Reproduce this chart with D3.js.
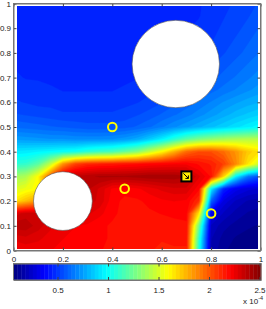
<!DOCTYPE html>
<html>
<head>
<meta charset="utf-8">
<script src="https://cdn.jsdelivr.net/npm/d3@7"></script>
<style>
  body { margin: 0; background: #fff; }
  svg { display: block; font-family: "Liberation Sans", Arial, sans-serif; }
</style>
</head>
<body>
<svg id="chart"></svg>
<script>
// concentration field, units of 1e-4, sampled every 0.05
var gridX = [0, 0.05, 0.1, 0.15, 0.2, 0.25, 0.3, 0.35, 0.4, 0.45, 0.5, 0.55, 0.6, 0.65, 0.7, 0.75, 0.8, 0.85, 0.9, 0.95, 1];
// rows from top (y = 1) to bottom (y = 0)
var gridY = [1, 0.95, 0.9, 0.85, 0.8, 0.75, 0.7, 0.65, 0.6, 0.55, 0.5, 0.45, 0.4, 0.35, 0.3, 0.25, 0.2, 0.15, 0.1, 0.05, 0];
var field = [
  [0.46,0.46,0.46,0.46,0.46,0.46,0.46,0.46,0.46,0.46,0.46,0.46,0.46,0.46,0.46,0.47,0.48,0.50,0.52,0.54,0.56],
  [0.46,0.46,0.46,0.46,0.46,0.46,0.46,0.46,0.46,0.46,0.46,0.46,0.46,0.46,0.46,0.47,0.49,0.51,0.53,0.55,0.58],
  [0.46,0.46,0.46,0.46,0.46,0.46,0.46,0.46,0.46,0.46,0.46,0.46,0.46,0.46,0.47,0.48,0.50,0.52,0.54,0.57,0.60],
  [0.46,0.46,0.46,0.46,0.46,0.46,0.46,0.46,0.46,0.46,0.46,0.46,0.46,0.47,0.48,0.49,0.51,0.53,0.56,0.59,0.62],
  [0.46,0.46,0.46,0.46,0.46,0.46,0.46,0.46,0.46,0.46,0.46,0.47,0.47,0.48,0.49,0.51,0.53,0.55,0.58,0.61,0.64],
  [0.47,0.46,0.46,0.46,0.46,0.46,0.46,0.46,0.46,0.46,0.46,0.47,0.48,0.49,0.51,0.53,0.55,0.58,0.61,0.64,0.67],
  [0.48,0.47,0.47,0.46,0.46,0.46,0.46,0.46,0.46,0.46,0.47,0.48,0.50,0.51,0.53,0.55,0.58,0.61,0.64,0.67,0.70],
  [0.50,0.49,0.48,0.48,0.47,0.47,0.47,0.47,0.47,0.48,0.49,0.50,0.52,0.54,0.56,0.59,0.62,0.65,0.68,0.71,0.74],
  [0.52,0.51,0.50,0.50,0.49,0.49,0.49,0.49,0.49,0.50,0.51,0.53,0.55,0.58,0.61,0.64,0.68,0.72,0.75,0.78,0.80],
  [0.56,0.55,0.54,0.53,0.52,0.52,0.52,0.52,0.52,0.53,0.55,0.57,0.60,0.63,0.66,0.70,0.74,0.78,0.82,0.85,0.88],
  [0.63,0.62,0.61,0.60,0.59,0.58,0.57,0.57,0.57,0.58,0.60,0.63,0.67,0.71,0.75,0.79,0.83,0.87,0.91,0.95,0.99],
  [0.75,0.74,0.73,0.72,0.72,0.71,0.71,0.71,0.72,0.74,0.78,0.86,0.95,1.08,1.20,1.28,1.33,1.37,1.40,1.42,1.43],
  [0.93,0.94,0.96,0.98,1.00,1.02,1.08,1.12,1.15,1.22,1.30,1.45,1.60,1.78,1.95,2.02,2.02,1.95,1.85,1.72,1.65],
  [1.08,1.10,1.20,1.45,1.85,2.05,2.12,2.14,2.15,2.17,2.18,2.20,2.21,2.22,2.22,2.18,2.14,2.06,1.88,1.65,1.45],
  [1.35,1.40,1.60,2.00,2.30,2.36,2.38,2.40,2.40,2.40,2.41,2.42,2.42,2.42,2.40,2.28,2.18,1.70,0.95,0.65,0.55],
  [1.50,1.55,1.60,2.00,2.30,2.35,2.36,2.30,2.22,2.20,2.22,2.25,2.28,2.30,2.30,2.20,0.95,0.45,0.33,0.28,0.26],
  [1.65,1.75,1.85,2.10,2.28,2.32,2.33,2.30,2.20,2.18,2.18,2.20,2.22,2.23,2.22,2.10,0.60,0.30,0.22,0.18,0.16],
  [2.28,2.33,2.33,2.32,2.32,2.30,2.28,2.24,2.20,2.17,2.17,2.18,2.19,2.20,2.20,1.65,0.32,0.22,0.17,0.14,0.13],
  [2.38,2.38,2.33,2.28,2.25,2.23,2.22,2.20,2.18,2.17,2.16,2.16,2.16,2.17,2.18,1.25,0.22,0.16,0.13,0.11,0.10],
  [2.28,2.30,2.28,2.25,2.23,2.22,2.21,2.20,2.18,2.17,2.16,2.15,2.15,2.16,2.16,1.10,0.19,0.13,0.10,0.09,0.09],
  [2.22,2.24,2.24,2.23,2.22,2.21,2.20,2.19,2.18,2.17,2.16,2.15,2.14,2.14,2.14,1.05,0.18,0.11,0.09,0.08,0.08]
];

var xTicks = [0, 0.2, 0.4, 0.6, 0.8, 1];
var yTicks = [0, 0.1, 0.2, 0.3, 0.4, 0.5, 0.6, 0.7, 0.8, 0.9, 1];
var cbarTicks = [0.5, 1, 1.5, 2, 2.5];
var cLimits = [0.064, 2.515];

// obstacles (holes in the domain)
var holeX = [0.657, 0.2];
var holeY = [0.755, 0.2];
var holeR = [0.177, 0.119];
// sensors and source
var sensorX = [0.4, 0.45, 0.8];
var sensorY = [0.5, 0.25, 0.15];
var sourceX = [0.7];
var sourceY = [0.3];

var W = 266, H = 309;
var svg = d3.select('#chart').attr('width', W).attr('height', H);

var x = d3.scaleLinear().domain([0, 1]).range([13.5, 260.5]);
var y = d3.scaleLinear().domain([0, 1]).range([250.5, 3.5]);

function jet(t) {
  t = Math.max(0, Math.min(1, t));
  function c(v) { return Math.max(0, Math.min(1, v)) * 255; }
  return d3.rgb(c(1.5 - Math.abs(4*t - 3)), c(1.5 - Math.abs(4*t - 2)), c(1.5 - Math.abs(4*t - 1))) + '';
}
var cNorm = d3.scaleLinear().domain(cLimits).range([0, 1]);

// clip for the coloured domain
svg.append('defs').append('clipPath').attr('id', 'dom')
  .append('rect')
  .attr('x', x(0.014)).attr('y', y(0.99))
  .attr('width', x(0.99) - x(0.014)).attr('height', y(0.006) - y(0.99));

var nx = gridX.length, ny = gridY.length;
var values = [];
field.forEach(function(row) { row.forEach(function(v) { values.push(v); }); });
var step = (cLimits[1] - cLimits[0]) / 60;
var levels = d3.range(60).map(function(i) { return cLimits[0] + i * step; });
var dxg = gridX[1] - gridX[0], dyg = gridY[0] - gridY[1];
var proj = d3.geoTransform({
  point: function(gx, gy) {
    this.stream.point(x(gridX[0] + (gx - 0.5) * dxg), y(gridY[0] - (gy - 0.5) * dyg));
  }
});
var path = d3.geoPath(proj);
var bands = d3.contours().size([nx, ny]).thresholds(levels)(values);

svg.append('g').attr('clip-path', 'url(#dom)')
  .selectAll('path')
  .data(bands)
  .enter()
  .append('path')
    .attr('d', path)
    .attr('fill', function(d) { return jet(cNorm(d.value + step / 2)); })
    .attr('stroke', function(d) { return jet(cNorm(d.value + step / 2)); })
    .attr('stroke-width', 0.3);

// holes
svg.append('g').selectAll('circle')
  .data(holeX)
  .enter()
  .append('circle')
    .attr('cx', function(d) { return x(d); })
    .attr('cy', function(d, i) { return y(holeY[i]); })
    .attr('r', function(d, i) { return x(holeR[i]) - x(0); })
    .attr('fill', '#fff')
    .attr('stroke', '#555')
    .attr('stroke-width', 0.6);

// sensors
svg.append('g').selectAll('circle')
  .data(sensorX)
  .enter()
  .append('circle')
    .attr('cx', function(d) { return x(d); })
    .attr('cy', function(d, i) { return y(sensorY[i]); })
    .attr('r', 4.3)
    .attr('fill', 'none')
    .attr('stroke', '#ffff00')
    .attr('stroke-width', 2);

// source
var src = svg.append('g').selectAll('g')
  .data(sourceX)
  .enter()
  .append('g')
    .attr('transform', function(d, i) { return 'translate(' + x(d) + ',' + y(sourceY[i]) + ')'; });
src.append('rect')
  .attr('x', -5).attr('y', -5).attr('width', 10).attr('height', 10)
  .attr('fill', '#ffee00').attr('stroke', '#000').attr('stroke-width', 2);
src.append('path')
  .attr('d', 'M-3,-3 L2,2 M2,-1 L2,2 L-1,2')
  .attr('fill', 'none').attr('stroke', '#000').attr('stroke-width', 1);

// axes
function styleAxis(g) {
  g.attr('font-size', 8).attr('font-family', '"Liberation Sans", Arial, sans-serif').attr('color', '#222');
  g.select('.domain').attr('stroke', '#777');
  g.selectAll('.tick line').attr('stroke', '#444');
}
var fmt = function(d) { return String(d); };
svg.append('g').attr('transform', 'translate(0,' + y(0) + ')')
  .call(d3.axisBottom(x).tickValues(xTicks).tickSize(-3).tickSizeOuter(0).tickPadding(6).tickFormat(fmt))
  .call(styleAxis);
svg.append('g').attr('transform', 'translate(0,' + y(1) + ')')
  .call(d3.axisTop(x).tickValues(xTicks).tickSize(-3).tickSizeOuter(0).tickFormat(''))
  .call(styleAxis);
svg.append('g').attr('transform', 'translate(' + x(0) + ',0)')
  .call(d3.axisLeft(y).tickValues(yTicks).tickSize(-3).tickSizeOuter(0).tickPadding(2.5).tickFormat(fmt))
  .call(styleAxis);
svg.append('g').attr('transform', 'translate(' + x(1) + ',0)')
  .call(d3.axisRight(y).tickValues(yTicks).tickSize(-3).tickSizeOuter(0).tickFormat(''))
  .call(styleAxis);

// colorbar
var cbTop = 263.5, cbBottom = 280;
var cx = d3.scaleLinear().domain(cLimits).range([13.5, 261]);
var nColors = 64;
var swatches = d3.range(nColors).map(function(i) { return cLimits[0] + i * (cLimits[1] - cLimits[0]) / nColors; });
var sw = (cLimits[1] - cLimits[0]) / nColors;
svg.append('g').selectAll('rect')
  .data(swatches)
  .enter()
  .append('rect')
    .attr('x', function(d) { return cx(d); })
    .attr('y', cbTop)
    .attr('width', function(d) { return cx(d + sw) - cx(d) + 0.4; })
    .attr('height', cbBottom - cbTop)
    .attr('fill', function(d) { return jet(cNorm(d + sw / 2)); });
svg.append('rect')
  .attr('x', cx(cLimits[0])).attr('y', cbTop)
  .attr('width', cx(cLimits[1]) - cx(cLimits[0])).attr('height', cbBottom - cbTop)
  .attr('fill', 'none').attr('stroke', '#777').attr('stroke-width', 1);
svg.append('g').attr('transform', 'translate(0,' + cbBottom + ')')
  .call(d3.axisBottom(cx).tickValues(cbarTicks).tickSize(-3).tickSizeOuter(0).tickPadding(7).tickFormat(fmt))
  .call(styleAxis);
svg.append('g').attr('transform', 'translate(0,' + cbTop + ')')
  .call(d3.axisTop(cx).tickValues(cbarTicks).tickSize(-3).tickSizeOuter(0).tickFormat(''))
  .call(styleAxis);

var expo = svg.append('text')
  .attr('x', 243).attr('y', 303.5)
  .attr('font-size', 8).attr('fill', '#222');
expo.append('tspan').text('x 10');
expo.append('tspan').attr('dy', -4).attr('font-size', 5.5).text('-4');

// frame
svg.append('rect')
  .attr('x', x(0)).attr('y', y(1))
  .attr('width', x(1) - x(0)).attr('height', y(0) - y(1))
  .attr('fill', 'none').attr('stroke', '#777').attr('stroke-width', 1);
</script>
</body>
</html>
